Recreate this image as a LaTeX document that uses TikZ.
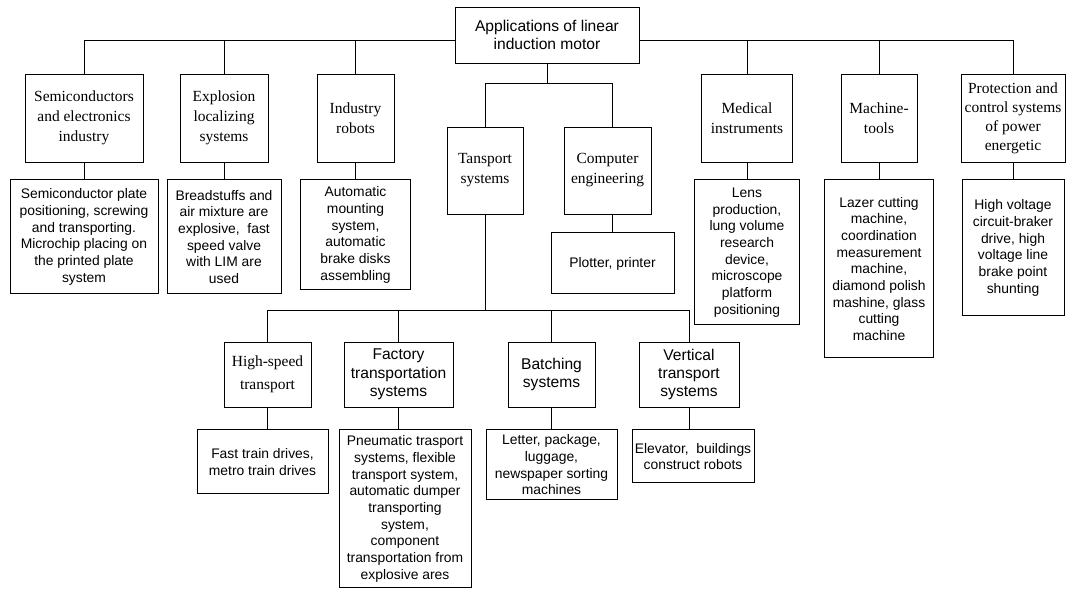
\documentclass[tikz,border=0pt]{standalone}
\usepackage{fontspec}
\setmainfont{Liberation Serif}
\setsansfont{Liberation Sans}
\usetikzlibrary{positioning}

\begin{document}
\begin{tikzpicture}[x=0.75pt,y=-0.75pt,node distance=12.75pt]
 	\tikzstyle{box}=[rectangle, draw=black!100, line width=0.7pt, align=center, inner sep=1pt]
 	\tikzstyle{cat}=[box, font=\fontsize{11.6}{15}\selectfont, minimum height=66pt]
 	\tikzstyle{usage}=[box, font=\sffamily\fontsize{10.4}{12.5}\selectfont]
 	\tikzstyle{sub}=[box, font=\sffamily\fontsize{11.7}{13.75}\selectfont, minimum height=48.75pt]
 	\tikzstyle{link}=[line width=0.7pt]
 	\useasboundingbox (0,0) rectangle (1066,589);
 	\node[box, font=\sffamily\fontsize{11.7}{13.3}\selectfont, minimum width=138pt, minimum height=42pt] (root) at (547,35) {Applications of linear\\induction motor};
 	\node[cat, minimum width=88.5pt] (semi) at (84,118) {Semiconductors\\and electronics\\industry};
 	\node[cat, minimum width=66pt] (expl) at (224,118) {Explosion\\localizing\\systems};
 	\node[cat, minimum width=57.75pt] (robots) at (355.5,118) {Industry\\robots};
 	\node[cat, minimum width=68.25pt] (medical) at (747,118) {Medical\\instruments};
 	\node[cat, minimum width=57pt] (machine) at (879,118) {Machine-\\tools};
 	\node[cat, minimum width=78pt, font=\fontsize{11.6}{14.2}\selectfont] (protect) at (1013,118) {Protection and\\control systems\\of power\\energetic};
 	\node[usage, minimum width=111pt, minimum height=85.5pt] (semidesc) [below=of semi] {Semiconductor plate\\positioning, screwing\\and transporting.\\Microchip placing on\\the printed plate\\system};
 	\node[usage, minimum width=85.5pt, minimum height=85.5pt] (expldesc) [below=of expl] {Breadstuffs and\\air mixture are\\explosive,~ fast\\speed valve\\with LIM are\\used};
 	\node[usage, minimum width=82.5pt, minimum height=82.5pt] (robotsdesc) [below=of robots] {Automatic\\mounting\\system,\\automatic\\brake disks\\assembling};
 	\node[usage, minimum width=78.75pt, minimum height=108.75pt] (lensdesc) [below=of medical] {Lens\\production,\\lung volume\\research\\device,\\microscope\\platform\\positioning};
 	\node[usage, minimum width=81.75pt, minimum height=133.5pt] (lazerdesc) [below=of machine] {Lazer cutting\\machine,\\coordination\\measurement\\machine,\\diamond polish\\mashine, glass\\cutting\\machine};
 	\node[usage, minimum width=76.5pt, minimum height=102pt] (hvdesc) [below=of protect] {High voltage\\circuit-braker\\drive, high\\voltage line\\brake point\\shunting};
 	\node[cat, minimum width=57pt, minimum height=65.25pt] (trans) at (485,170.5) {Tansport\\systems};
 	\node[cat, minimum width=65.25pt, minimum height=65.25pt] (comp) at (607.5,170.5) {Computer\\engineering};
 	\node[usage, minimum width=92.25pt, minimum height=45.75pt] (plot) [below=13.5pt of comp, xshift=3.75pt] {Plotter, printer};
 	\node[cat, minimum width=65.25pt, minimum height=48.75pt, font=\fontsize{11.6}{17}\selectfont] (hs) at (267.5,374.5) {High-speed\\transport};
 	\node[sub, minimum width=81.75pt] (fact) at (398.5,374.5) {Factory\\transportation\\systems};
 	\node[sub, minimum width=65.25pt] (batch) at (551.5,374.5) {Batching\\systems};
 	\node[sub, minimum width=75pt] (vert) at (689,374.5) {Vertical\\transport\\systems};
 	\node[usage, minimum width=98.25pt, minimum height=48pt] (fast) [below=16.5pt of hs, xshift=-3.75pt] {Fast train drives,\\metro train drives};
 	\node[usage, minimum width=99pt, minimum height=118.5pt] (pneu) [below=16.5pt of fact, xshift=4.875pt] {Pneumatic trasport\\systems, flexible\\transport system,\\automatic dumper\\transporting\\system,\\component\\transportation from\\explosive ares};
 	\node[usage, minimum width=98.25pt, minimum height=52.5pt] (letter) [below=16.5pt of batch] {Letter, package,\\luggage,\\newspaper sorting\\machines};
 	\node[usage, minimum width=91.5pt, minimum height=39.75pt] (elev) [below=16.5pt of vert, xshift=3pt] {Elevator,~ buildings\\construct robots};
 	\path (root.west) ++(0,5) coordinate (busl);
 	\path (root.east) ++(0,5) coordinate (busr);
 	\path (root.south) ++(0,20) coordinate (split);
 	\path (trans.south) ++(0,96) coordinate (lowbus);
 	\draw[link] (semi.north) |- (busl);
 	\draw[link] (protect.north) |- (busr);
 	\draw[link] (root.south) -- (split);
 	\draw[link] (trans.north) |- (split) -| (plot.north |- comp.north);
 	\draw[link] (trans.south) -- (lowbus);
 	\draw[link] (hs.north) |- (lowbus) -| (vert.north);
 	\path (expl.north) edge [link] (expl.north |- busl)
 	(robots.north) edge [link] (robots.north |- busl)
 	(medical.north) edge [link] (medical.north |- busr)
 	(machine.north) edge [link] (machine.north |- busr)
 	(fact.north) edge [link] (fact.north |- lowbus)
 	(batch.north) edge [link] (batch.north |- lowbus)
 	(semi.south) edge [link] (semi.south |- semidesc.north)
 	(expl.south) edge [link] (expl.south |- expldesc.north)
 	(robots.south) edge [link] (robots.south |- robotsdesc.north)
 	(medical.south) edge [link] (medical.south |- lensdesc.north)
 	(machine.south) edge [link] (machine.south |- lazerdesc.north)
 	(protect.south) edge [link] (protect.south |- hvdesc.north)
 	(comp.south -| plot.north) edge [link] (plot.north)
 	(hs.south) edge [link] (hs.south |- fast.north)
 	(fact.south) edge [link] (fact.south |- pneu.north)
 	(batch.south) edge [link] (batch.south |- letter.north)
 		(vert.south) edge [link] (vert.south |- elev.north);
\end{tikzpicture}
\end{document}
